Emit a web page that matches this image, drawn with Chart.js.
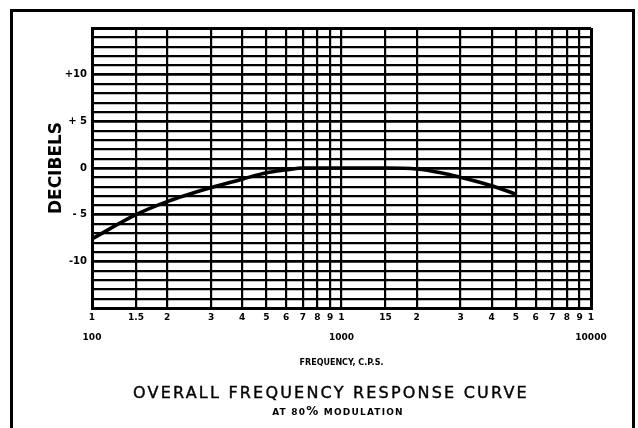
<!DOCTYPE html>
<html>
<head>
<meta charset="utf-8">
<title>Overall Frequency Response Curve</title>
<script src="https://cdn.jsdelivr.net/npm/chart.js@4.4.0/dist/chart.umd.min.js"></script>
<style>
    html, body { margin: 0; padding: 0; background: #fff; }
    body { width: 638px; height: 428px; position: relative; overflow: hidden; font-family: "DejaVu Sans", sans-serif; }
    #frame { position: absolute; left: 10px; top: 9px; width: 625px; height: 440px; border: 3px solid #000; box-sizing: border-box; }
    #chart { position: absolute; left: 0; top: 0; }
    .caption { position: absolute; text-align: center; color: #000; white-space: nowrap; }
    #main-title { left: 0; width: 662px; top: 383px; font-size: 16px; letter-spacing: 2.2px; -webkit-text-stroke: 0.4px #000; }
    #sub-title { left: 0; width: 676px; top: 404px; font-size: 9px; font-weight: bold; letter-spacing: 1.2px; }
</style>
</head>
<body>
<div id="frame"></div>
<canvas id="chart" width="638" height="428"></canvas>
<div class="caption" id="main-title">OVERALL FREQUENCY RESPONSE CURVE</div>
<div class="caption" id="sub-title">AT 80<span style="font-size:12px">%</span> MODULATION</div>

<script>
// Response curve (frequency in c.p.s., level in dB)
const frequencies = [100, 150, 200, 300, 400, 500, 600, 700, 800, 1000, 1500, 2000, 2500, 3000, 4000, 5000];
const decibels = [-7.6, -5.0, -3.6, -2.1, -1.2, -0.5, -0.2, 0, 0, 0, 0, -0.1, -0.5, -1.0, -1.9, -2.8];

// Log paper divisions and their printed labels
const xTickValues = [100, 150, 200, 300, 400, 500, 600, 700, 800, 900,
    1000, 1500, 2000, 3000, 4000, 5000, 6000, 7000, 8000, 9000, 10000];
const xTickLabels = ['1', '1.5', '2', '3', '4', '5', '6', '7', '8', '9',
    '1', '15', '2', '3', '4', '5', '6', '7', '8', '9', '1'];
const decadeValues = [100, 1000, 10000];
const decadeLabels = ['100', '1000', '10000'];

const yTickValues = [-10, -5, 0, 5, 10];
const yTickLabels = ['-10', '- 5', '0', '+ 5', '+10'];

const ink = '#000';

const ctx = document.getElementById('chart');

new Chart(ctx, {
    type: 'line',
    data: {
        datasets: [{
            data: frequencies.map((f, i) => ({ x: f, y: decibels[i] })),
            borderColor: ink,
            borderWidth: 3.5,
            pointRadius: 0,
            fill: false,
            cubicInterpolationMode: 'monotone'
        }]
    },
    options: {
        responsive: false,
        animation: false,
        devicePixelRatio: 1,
        layout: {
            padding: { top: 28, right: 47, bottom: 50, left: 0 }
        },
        plugins: {
            legend: { display: false },
            tooltip: { enabled: false }
        },
        scales: {
            x: {
                type: 'logarithmic',
                min: 100,
                max: 10000,
                afterBuildTicks: (scale) => {
                    scale.ticks = xTickValues.map(v => ({ value: v }));
                },
                afterFit: (scale) => { scale.height = 70; },
                border: { display: true, color: ink, width: 3 },
                grid: {
                    color: ink,
                    drawTicks: false,
                    lineWidth: (c) => (c.tick && (c.tick.value === 100 || c.tick.value === 10000)) ? 3 : 2.2
                },
                ticks: {
                    autoSkip: false,
                    maxRotation: 0,
                    padding: 0,
                    color: ink,
                    font: { family: 'DejaVu Sans', size: 9, weight: 'bold', lineHeight: 2.2 },
                    callback: (value) => {
                        const i = xTickValues.indexOf(value);
                        if (i < 0) return '';
                        const d = decadeValues.indexOf(value);
                        return d >= 0 ? [xTickLabels[i], decadeLabels[d]] : xTickLabels[i];
                    }
                },
                title: {
                    display: true,
                    text: 'FREQUENCY, C.P.S.',
                    color: ink,
                    font: { family: 'DejaVu Sans', size: 8, weight: 'bold' },
                    padding: { top: 0, bottom: 10 }
                }
            },
            y: {
                min: -15,
                max: 15,
                afterFit: (scale) => { scale.width = 92; },
                border: { display: true, color: ink, width: 3 },
                grid: {
                    color: ink,
                    drawTicks: false,
                    lineWidth: (c) => {
                        if (!c.tick) return 2;
                        const v = c.tick.value;
                        if (v === 15 || v === -15) return 3;
                        return v % 5 === 0 ? 2.8 : 2.2;
                    }
                },
                ticks: {
                    stepSize: 1,
                    autoSkip: false,
                    padding: 5,
                    color: ink,
                    font: { family: 'DejaVu Sans', size: 10, weight: 'bold' },
                    callback: (value) => {
                        const i = yTickValues.indexOf(value);
                        return i >= 0 ? yTickLabels[i] : '';
                    }
                },
                title: {
                    display: true,
                    text: 'DECIBELS',
                    color: ink,
                    font: { family: 'DejaVu Sans', size: 17, weight: 'bold' },
                    padding: { top: 46, bottom: 0 }
                }
            }
        }
    }
});
</script>
</body>
</html>
